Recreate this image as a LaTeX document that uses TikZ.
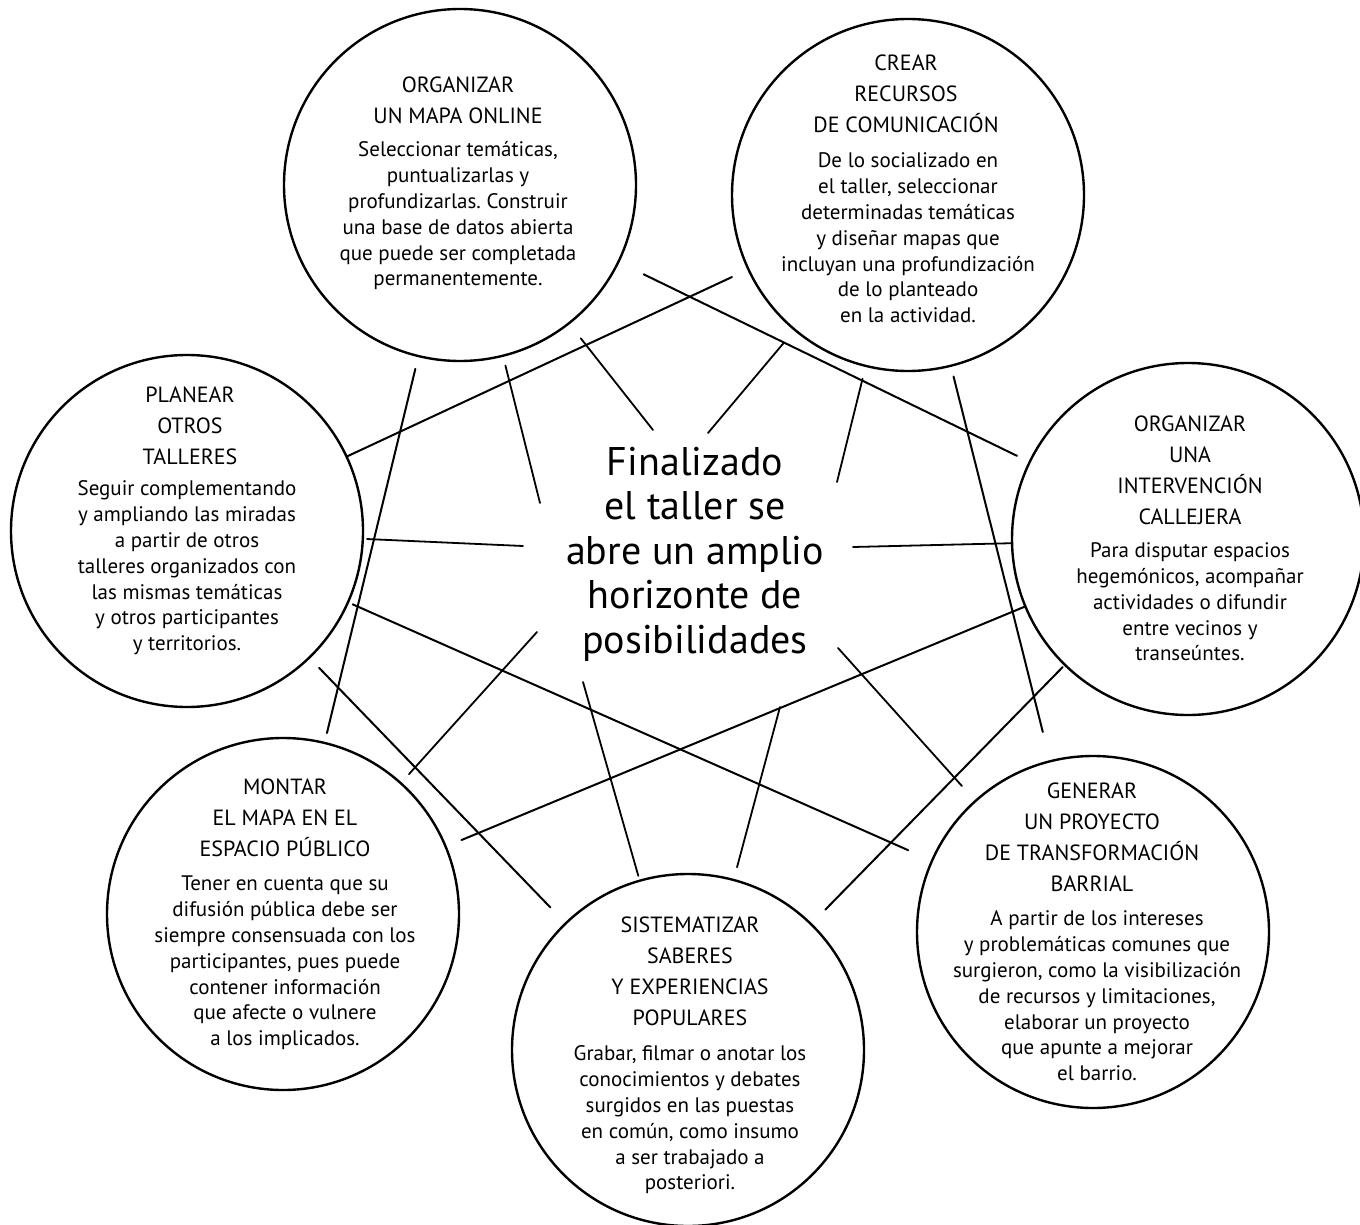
\documentclass[tikz,border=0pt]{standalone}
\usepackage{fontspec}
\setmainfont{PT Sans}
\usepackage{tikz}
\usetikzlibrary{calc}
\frenchspacing

\tikzset{
	burbuja/.style = {circle, draw, line width = 1.2pt, minimum size = 176pt, inner sep = 0pt},
	titulo/.style = {align = center, inner sep = 0pt, font = \fontsize{11}{15.5}\selectfont},
	cuerpo/.style = {align = center, inner sep = 0pt, font = \fontsize{10.5}{12.9}\selectfont},
	lema/.style = {align = center, inner sep = 0pt, font = \fontsize{20}{22.25}\selectfont},
	trazo/.style = {line width = 1pt, line cap = round},
}

\begin{document}
\begin{tikzpicture}[x = 0.5pt, y = -0.5pt]
			\useasboundingbox (0,0) rectangle (1360,1225);

			\begin{scope}
				\node [burbuja] (online) at (460,185) {};
				\node [burbuja] (recursos) at (908,195) {};
				\node [burbuja] (calle) at (1188,539) {};
				\node [burbuja] (proyecto) at (1093,932) {};
				\node [burbuja] (saberes) at (688,1050) {};
				\node [burbuja] (espacio) at (283,914) {};
				\node [burbuja] (talleres) at (187,531) {};
			\end{scope}

			\begin{scope}
				\coordinate (online-a) at (540,503);
				\coordinate (online-b) at (653,430);
				\coordinate (recursos-a) at (708,433);
				\coordinate (recursos-b) at (837,482);
				\coordinate (calle-a) at (853,547);
				\coordinate (proyecto-a) at (838,648);
				\coordinate (saberes-a) at (583,682);
				\coordinate (saberes-b) at (780,707);
				\coordinate (espacio-a) at (537,632);
				\coordinate (talleres-a) at (523,546);
			\end{scope}

			\begin{scope}[trazo]
				\draw [shorten >= 8.5pt] (talleres) -- (recursos);
				\draw [shorten <= 6pt, shorten >= 4.5pt] (online) -- (espacio);
				\draw [shorten <= 13.5pt, shorten >= 6.5pt] (online) -- (calle);
				\draw [shorten <= 5pt, shorten >= 14.5pt] (recursos) -- (proyecto);
				\draw [shorten <= 1pt, shorten >= 9.5pt] (calle) -- (saberes);
				\draw [shorten <= 6.5pt, shorten >= 10.5pt] (talleres) -- (saberes);
				\draw [shorten <= 2pt, shorten >= 12.5pt] (talleres) -- (proyecto);
				\draw [shorten >= 8pt] (calle) -- (espacio);
			\end{scope}

			\begin{scope}[trazo, line width = 0.9pt]
				\draw [shorten <= 4.5pt] (online) -- (online-a);
				\draw [shorten <= 9pt] (online) -- (online-b);
				\draw [shorten <= 8pt] (recursos) -- (recursos-a);
				\draw [shorten <= 6pt] (recursos) -- (recursos-b);
				\draw (calle) -- (calle-a);
				\draw [shorten <= 9.5pt] (proyecto) -- (proyecto-a);
				\draw [shorten <= 2pt] (saberes) -- (saberes-a);
				\draw [shorten <= 6pt] (saberes) -- (saberes-b);
				\draw [shorten <= 5.5pt] (espacio) -- (espacio-a);
				\draw [shorten <= 1.5pt] (talleres) -- (talleres-a);
			\end{scope}

			\node [lema] (lema) at (695,554) {Finalizado\\el taller se\\abre un amplio\\horizonte de\\posibilidades};

			\begin{scope}
				\node [titulo] (online-t) at (458,100) {ORGANIZAR\\UN MAPA ONLINE};
				\node [cuerpo] (online-c) at (458,216) {Seleccionar temáticas,\\puntualizarlas y\\profundizarlas. Construir\\una base de datos abierta\\que puede ser completada\\permanentemente.};

				\node [titulo] (recursos-t) at (906,94) {CREAR\\RECURSOS\\DE COMUNICACIÓN};
				\node [cuerpo] (recursos-c) at (908,238) {De lo socializado en\\el taller, seleccionar\\determinadas temáticas\\y diseñar mapas que\\incluyan una profundización\\de lo planteado\\en la actividad.};

				\node [titulo] (calle-t) at (1190,470) {ORGANIZAR\\UNA\\INTERVENCIÓN\\CALLEJERA};
				\node [cuerpo] (calle-c) at (1190,602) {Para disputar espacios\\hegemónicos, acompañar\\actividades o difundir\\entre vecinos y\\transeúntes.};

				\node [titulo] (proyecto-t) at (1092,837) {GENERAR\\UN PROYECTO\\DE TRANSFORMACIÓN\\BARRIAL};
				\node [cuerpo] (proyecto-c) at (1097,996) {A partir de los intereses\\y problemáticas comunes que\\surgieron, como la visibilización\\de recursos y limitaciones,\\elaborar un proyecto\\que apunte a mejorar\\el barrio.};

				\node [titulo] (saberes-t) at (690,971) {SISTEMATIZAR\\SABERES\\Y EXPERIENCIAS\\POPULARES};
				\node [cuerpo] (saberes-c) at (690,1120) {Grabar, filmar o anotar los\\conocimientos y debates\\surgidos en las puestas\\en común, como insumo\\a ser trabajado a\\posteriori.};

				\node [titulo] (espacio-t) at (285,818) {MONTAR\\EL MAPA EN EL\\ESPACIO PÚBLICO};
				\node [cuerpo] (espacio-c) at (285,963) {Tener en cuenta que su\\difusión pública debe ser\\siempre consensuada con los\\participantes, pues puede\\contener información\\que afecte o vulnere\\a los implicados.};

				\node [titulo] (talleres-t) at (190,426) {PLANEAR\\OTROS\\TALLERES};
				\node [cuerpo] (talleres-c) at (187,568) {Seguir complementando\\y ampliando las miradas\\a partir de otros\\talleres organizados con\\las mismas temáticas\\y otros participantes\\y territorios.};
			\end{scope}
		\end{tikzpicture}
\end{document}
